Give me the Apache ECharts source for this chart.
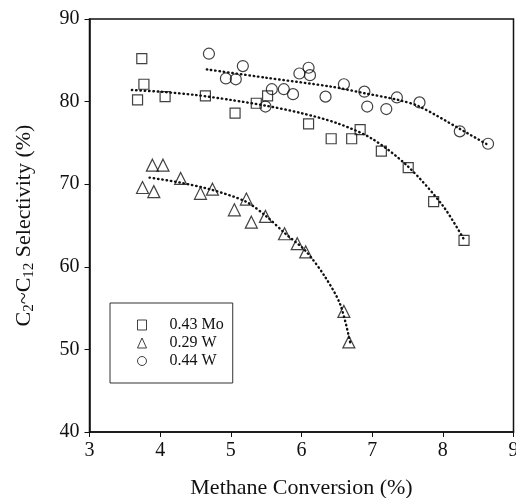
<!DOCTYPE html>
<html>
<head>
<meta charset="utf-8">
<script src="https://cdn.jsdelivr.net/npm/echarts@6/dist/echarts.min.js"></script>
<style>
  html, body { margin: 0; padding: 0; background: #fff; }
  #chart { width: 516px; height: 498px; }
</style>
</head>
<body>
<div id="chart"></div>
<script>
// measured points [conversion %, selectivity %]
const moPoints = [
  [3.74, 85.2], [3.77, 82.1], [3.68, 80.2], [4.07, 80.6], [4.64, 80.7],
  [5.06, 78.6], [5.36, 79.8], [5.52, 80.7], [6.10, 77.3], [6.42, 75.5],
  [6.71, 75.5], [6.83, 76.6], [7.13, 74.0], [7.51, 72.0], [7.87, 67.9],
  [8.30, 63.2]
]
const w29Points = [
  [3.89, 72.3], [4.04, 72.3], [3.75, 69.6], [3.91, 69.1], [4.29, 70.7],
  [4.57, 68.9], [4.74, 69.4], [5.05, 66.9], [5.22, 68.2], [5.29, 65.4],
  [5.49, 66.1], [5.76, 64.0], [5.94, 62.8], [6.06, 61.8], [6.60, 54.6],
  [6.67, 50.9]
]
const w44Points = [
  [4.69, 85.8], [4.93, 82.8], [5.07, 82.7], [5.17, 84.3], [5.49, 79.4],
  [5.58, 81.5], [5.75, 81.5], [5.88, 80.9], [5.97, 83.4], [6.10, 84.1],
  [6.12, 83.2], [6.34, 80.6], [6.60, 82.1], [6.89, 81.2], [6.93, 79.4],
  [7.20, 79.1], [7.35, 80.5], [7.67, 79.9], [8.24, 76.4], [8.64, 74.9]
]
// fitted trend curves
const moFit = [
  [3.6, 81.4], [4.0, 81.2], [4.5, 80.8], [5.0, 80.2], [5.5, 79.5],
  [6.0, 78.6], [6.5, 77.4], [7.0, 75.5], [7.5, 72.2], [8.0, 67.4], [8.3, 63.3]
]
const w29Fit = [
  [3.85, 70.8], [4.28, 70.2], [4.74, 69.3], [5.21, 67.9], [5.49, 66.2],
  [5.76, 64.1], [6.06, 61.9], [6.34, 58.7], [6.55, 55.4], [6.69, 50.8]
]
const w44Fit = [
  [4.66, 83.9], [5.49, 82.9], [6.43, 81.8], [6.90, 81.0], [7.37, 80.2],
  [7.67, 79.4], [8.24, 76.7], [8.63, 74.8]
]
const seriesNames = ['0.43 Mo', '0.29 W', '0.44 W']

const font = 'Liberation Serif'
const chart = echarts.init(document.getElementById('chart'))

const scatter = (name, symbol, size, data) => ({
  name: name,
  type: 'scatter',
  symbol: symbol,
  symbolSize: size,
  itemStyle: { color: 'rgba(255,255,255,0)', borderColor: '#111', borderWidth: 1.2 },
  data: data,
  z: 3
})
const fit = (data) => ({
  type: 'line',
  smooth: 0.3,
  showSymbol: false,
  silent: true,
  lineStyle: { color: '#111', width: 2.4, type: [0.5, 3.8], cap: 'round' },
  data: data,
  z: 4
})

chart.setOption({
  backgroundColor: '#fff',
  animation: false,
  grid: {
    left: 89.5,
    right: 2.5,
    top: 19,
    bottom: 66,
    show: true,
    borderColor: '#111',
    borderWidth: 1.5,
    outerBoundsMode: 'none'
  },
  legend: {
    data: seriesNames,
    orient: 'vertical',
    left: 110,
    top: 303,
    padding: [14, 9, 14, 27],
    itemWidth: 9,
    itemHeight: 10,
    itemGap: 2,
    backgroundColor: '#fff',
    borderColor: '#333',
    borderWidth: 1,
    itemStyle: { borderWidth: 1 },
    textStyle: { fontFamily: font, fontSize: 16, color: '#111', padding: [0, 0, 0, 18] }
  },
  xAxis: {
    type: 'value',
    min: 3,
    max: 9,
    interval: 1,
    name: 'Methane Conversion (%)',
    nameLocation: 'middle',
    nameGap: 45,
    nameTextStyle: { fontFamily: font, fontSize: 22, color: '#111' },
    axisLine: { onZero: false, lineStyle: { color: '#111', width: 1.5 } },
    axisTick: { inside: false, length: 5, lineStyle: { color: '#111' } },
    axisLabel: { fontFamily: font, fontSize: 20, color: '#111', margin: 9 },
    splitLine: { show: false }
  },
  yAxis: {
    type: 'value',
    min: 40,
    max: 90,
    interval: 10,
    name: '{a|C}{b|2}{a|~C}{b|12}{a| Selectivity (%)}',
    nameLocation: 'middle',
    nameGap: 53,
    nameTextStyle: {
      fontFamily: font,
      color: '#111',
      rich: {
        a: { fontFamily: font, fontSize: 22, color: '#111', lineHeight: 24 },
        b: { fontFamily: font, fontSize: 15, color: '#111', lineHeight: 24, padding: [9, 0, 0, 0] }
      }
    },
    axisLine: { onZero: false, lineStyle: { color: '#111', width: 1.5 } },
    axisTick: { inside: false, length: 5, lineStyle: { color: '#111' } },
    axisLabel: { fontFamily: font, fontSize: 20, color: '#111', margin: 10 },
    splitLine: { show: false }
  },
  series: [
    scatter(seriesNames[0], 'rect', 10, moPoints),
    scatter(seriesNames[1], 'triangle', 12, w29Points),
    scatter(seriesNames[2], 'circle', 11, w44Points),
    fit(moFit),
    fit(w29Fit),
    fit(w44Fit)
  ]
})
</script>
</body>
</html>
